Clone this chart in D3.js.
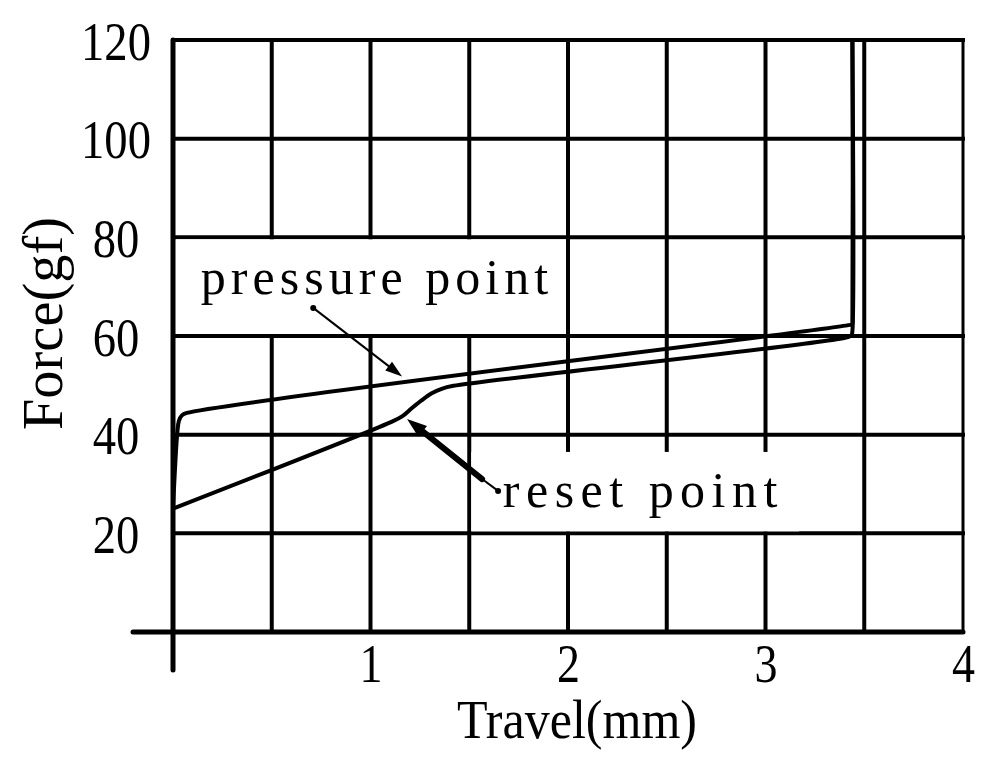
<!DOCTYPE html>
<html>
<head>
<meta charset="utf-8">
<script src="https://cdn.jsdelivr.net/npm/d3@7"></script>
<style>
  html, body { margin: 0; padding: 0; background: #fff; }
  svg { display: block; }
</style>
</head>
<body>
<svg id="chart" width="1000" height="760"></svg>
<script>
// ---- data ----
const xTicks = [1, 2, 3, 4];
const yTicks = [20, 40, 60, 80, 100, 120];
const xGrid = [0.5, 1, 1.5, 2, 2.5, 3, 3.5];
const yGrid = [20, 40, 60, 80, 100, 120];

// pressing curve (travel mm, force gf)
const pressX = [0, 0.022, 0.03, 0.045, 0.07, 3.42, 3.438, 3.44, 3.44];
const pressY = [25, 40.5, 42.8, 43.9, 44.4, 62.2, 62.4, 63.5, 120];
// release curve
const releaseX = [3.44, 3.44, 3.436, 3.418, 1.42, 1.36, 1.31, 1.26, 1.21, 1.16, 1.10, 0];
const releaseY = [120, 61.0, 60.2, 59.8, 49.9, 49.3, 48.4, 47.0, 45.4, 43.7, 42.5, 25];

// annotations (data coordinates)
const pressureLabel = { text: "pressure point", x: 0.14, y: 68.5, len: 1.76 };
const pressureArrow = { x0: 0.71, y0: 65.7, x1: 1.16, y1: 51.8 };
const resetLabel = { text: "reset point", x: 1.67, y: 25.3, len: 1.39 };
const resetArrow = { x0: 1.646, y0: 28.6, xm: 1.565, ym: 31.0, x1: 1.185, y1: 43.2 };

// ---- layout ----
const svg = d3.select("#chart");
const x = d3.scaleLinear().domain([0, 4]).range([173, 963]);
const y = d3.scaleLinear().domain([0, 120]).range([632, 40]);
const FONT = "'Liberation Serif', 'DejaVu Serif', serif";

// grid
const grid = svg.append("g").attr("stroke", "#000").attr("stroke-linecap", "square");
grid.selectAll("line.v").data(xGrid).join("line")
  .attr("x1", d => x(d)).attr("x2", d => x(d))
  .attr("y1", y(0)).attr("y2", y(120))
  .attr("stroke-width", 4);
grid.append("line")
  .attr("x1", x(4)).attr("x2", x(4)).attr("y1", y(0)).attr("y2", y(120))
  .attr("stroke-width", 3);
grid.selectAll("line.h").data(yGrid).join("line")
  .attr("x1", x(0)).attr("x2", x(4))
  .attr("y1", d => y(d)).attr("y2", d => y(d))
  .attr("stroke-width", 4);

// white label backgrounds hiding grid
svg.append("rect")
  .attr("x", x(0) + 3).attr("y", y(80) + 2)
  .attr("width", x(2) - 2 - (x(0) + 3)).attr("height", y(60) - 2 - (y(80) + 2))
  .attr("fill", "#fff");
svg.append("rect")
  .attr("x", x(1.5) + 2).attr("y", y(36.5))
  .attr("width", x(3.17) - (x(1.5) + 2)).attr("height", y(20) - 2 - y(36.5))
  .attr("fill", "#fff");

// main axes lines
svg.append("line")
  .attr("x1", 133).attr("x2", x(4)).attr("y1", y(0)).attr("y2", y(0))
  .attr("stroke", "#000").attr("stroke-width", 5).attr("stroke-linecap", "round");
svg.append("line")
  .attr("x1", x(0)).attr("x2", x(0)).attr("y1", y(120)).attr("y2", 670)
  .attr("stroke", "#000").attr("stroke-width", 5).attr("stroke-linecap", "round");

// y axis labels
const gy = svg.append("g").attr("transform", `translate(${x(0)},0)`)
  .call(d3.axisLeft(y).tickValues(yTicks).tickSize(0).tickFormat(d3.format("d")));
gy.select(".domain").remove();
gy.attr("font-family", FONT).attr("font-size", 54).attr("text-anchor", "middle");
gy.selectAll("text")
  .attr("fill", "#000")
  .attr("x", 116 - x(0)).attr("dy", null).attr("y", 19)
  .attr("textLength", d => String(d).length * 23.3)
  .attr("lengthAdjust", "spacingAndGlyphs");

// x axis labels
const gx = svg.append("g").attr("transform", `translate(0,${y(0)})`)
  .call(d3.axisBottom(x).tickValues(xTicks).tickSize(0).tickFormat(d3.format("d")));
gx.select(".domain").remove();
gx.attr("font-family", FONT).attr("font-size", 54).attr("text-anchor", "middle");
gx.selectAll("text")
  .attr("fill", "#000")
  .attr("dy", null).attr("y", 50)
  .attr("textLength", 23)
  .attr("lengthAdjust", "spacingAndGlyphs");

// axis titles
svg.append("text")
  .attr("x", 457).attr("y", 738)
  .attr("font-family", FONT).attr("font-size", 54)
  .attr("textLength", 240).attr("lengthAdjust", "spacingAndGlyphs")
  .text("Travel(mm)");
svg.append("text")
  .attr("transform", "translate(62,430) rotate(-90)")
  .attr("x", 0).attr("y", 0)
  .attr("font-family", FONT).attr("font-size", 56)
  .attr("textLength", 213).attr("lengthAdjust", "spacingAndGlyphs")
  .text("Force(gf)");

// curves
const line = d3.line().x(d => x(d[0])).y(d => y(d[1])).curve(d3.curveCatmullRom.alpha(0.5));
const pressData = pressX.map((v, i) => [v, pressY[i]]);
const releaseData = releaseX.map((v, i) => [v, releaseY[i]]);
svg.append("path").datum(pressData).attr("d", line)
  .attr("fill", "none").attr("stroke", "#000").attr("stroke-width", 4)
  .attr("stroke-linejoin", "round").attr("stroke-linecap", "round");
svg.append("path").datum(releaseData).attr("d", line)
  .attr("fill", "none").attr("stroke", "#000").attr("stroke-width", 4)
  .attr("stroke-linejoin", "round").attr("stroke-linecap", "round");

// annotation labels
svg.append("text")
  .attr("x", x(pressureLabel.x)).attr("y", y(pressureLabel.y))
  .attr("font-family", FONT).attr("font-size", 50)
  .attr("textLength", x(pressureLabel.len) - x(0)).attr("lengthAdjust", "spacing")
  .text(pressureLabel.text);
svg.append("text")
  .attr("x", x(resetLabel.x)).attr("y", y(resetLabel.y))
  .attr("font-family", FONT).attr("font-size", 50)
  .attr("textLength", x(resetLabel.len) - x(0)).attr("lengthAdjust", "spacing")
  .text(resetLabel.text);

// arrowheads
function arrowHead(px, py, fromx, fromy, len, half) {
  const ang = Math.atan2(py - fromy, px - fromx);
  const bx = px - len * Math.cos(ang), by = py - len * Math.sin(ang);
  const nx = -Math.sin(ang) * half, ny = Math.cos(ang) * half;
  return `M${px},${py}L${bx + nx},${by + ny}L${bx - nx},${by - ny}Z`;
}

// pressure arrow
{
  const a = pressureArrow;
  const X0 = x(a.x0), Y0 = y(a.y0), X1 = x(a.x1), Y1 = y(a.y1);
  const ang = Math.atan2(Y1 - Y0, X1 - X0);
  svg.append("line")
    .attr("x1", X0).attr("y1", Y0)
    .attr("x2", X1 - 10 * Math.cos(ang)).attr("y2", Y1 - 10 * Math.sin(ang))
    .attr("stroke", "#000").attr("stroke-width", 2);
  svg.append("circle").attr("cx", X0).attr("cy", Y0).attr("r", 3).attr("fill", "#000");
  svg.append("path").attr("d", arrowHead(X1, Y1, X0, Y0, 17, 5.5)).attr("fill", "#000");
}

// reset arrow
{
  const a = resetArrow;
  const X0 = x(a.x0), Y0 = y(a.y0), Xm = x(a.xm), Ym = y(a.ym), X1 = x(a.x1), Y1 = y(a.y1);
  const ang = Math.atan2(Y1 - Ym, X1 - Xm);
  svg.append("line")
    .attr("x1", X0).attr("y1", Y0).attr("x2", Xm).attr("y2", Ym)
    .attr("stroke", "#000").attr("stroke-width", 2);
  svg.append("line")
    .attr("x1", Xm).attr("y1", Ym)
    .attr("x2", X1 - 12 * Math.cos(ang)).attr("y2", Y1 - 12 * Math.sin(ang))
    .attr("stroke", "#000").attr("stroke-width", 6).attr("stroke-linecap", "round");
  svg.append("circle").attr("cx", X0).attr("cy", Y0).attr("r", 3).attr("fill", "#000");
  svg.append("path").attr("d", arrowHead(X1, Y1, Xm, Ym, 20, 7)).attr("fill", "#000");
}
</script>
</body>
</html>
